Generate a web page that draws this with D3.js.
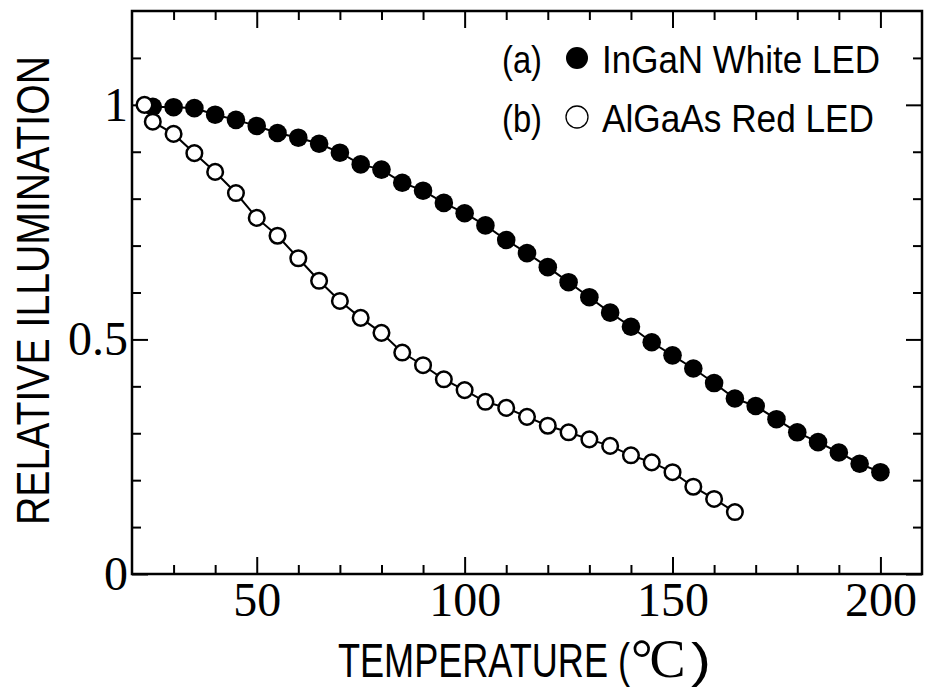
<!DOCTYPE html>
<html>
<head>
<meta charset="utf-8">
<script src="https://cdn.jsdelivr.net/npm/d3@7"></script>
<style>
  body { margin: 0; background: #fff; }
  svg text { fill: #000; }
</style>
</head>
<body>
<div class="canvas"></div>
<script>
// data
const tempWhite = [25, 30, 35, 40, 45, 50, 55, 60, 65, 70, 75, 80, 85, 90, 95, 100, 105, 110, 115, 120,
  125, 130, 135, 140, 145, 150, 155, 160, 165, 170, 175, 180, 185, 190, 195, 200];
const illumWhite = [0.996, 0.995, 0.993, 0.979, 0.968, 0.955, 0.940, 0.930, 0.917, 0.898, 0.873, 0.862,
  0.834, 0.817, 0.791, 0.769, 0.743, 0.712, 0.684, 0.654, 0.622, 0.590, 0.557, 0.527, 0.494, 0.466,
  0.438, 0.407, 0.374, 0.358, 0.330, 0.302, 0.281, 0.259, 0.235, 0.217];

const tempRed = [23, 25, 30, 35, 40, 45, 50, 55, 60, 65, 70, 75, 80, 85, 90, 95, 100, 105, 110, 115,
  120, 125, 130, 135, 140, 145, 150, 155, 160, 165];
const illumRed = [1.0, 0.964, 0.938, 0.897, 0.857, 0.812, 0.759, 0.721, 0.673, 0.625, 0.582, 0.546,
  0.514, 0.472, 0.445, 0.415, 0.392, 0.367, 0.354, 0.335, 0.316, 0.302, 0.287, 0.273, 0.253, 0.238,
  0.217, 0.186, 0.160, 0.132];

const xMajor = [50, 100, 150, 200];
const xMinor = [30, 40, 60, 70, 80, 90, 110, 120, 130, 140, 160, 170, 180, 190];
const yMajor = [0, 0.5, 1];
const yMinor = [0.1, 0.2, 0.3, 0.4, 0.6, 0.7, 0.8, 0.9, 1.1];

const legendLabels = ['InGaN White LED', 'AlGaAs Red LED'];
const legendTags = ['(a)', '(b)'];

// margins
const margin = {top: 11, right: 3, bottom: 114, left: 132};
const width = 925, height = 688;
const graphWidth = width - margin.left - margin.right;
const graphHeight = height - margin.top - margin.bottom;

const svg = d3.select('.canvas').append('svg')
    .attr('width', width)
    .attr('height', height);

const graph = svg.append('g')
    .attr('transform', `translate(${margin.left}, ${margin.top})`);

// scales
const x = d3.scaleLinear().domain([20, 210]).range([0, graphWidth]);
const y = d3.scaleLinear().domain([0, 1.2]).range([graphHeight, 0]);

const serif = '"Liberation Serif", "Times New Roman", serif';
const narrow = '"Liberation Sans Narrow", "Arial Narrow", "Liberation Sans", sans-serif';

// ticks on all four sides, pointing inward
function styleAxis(g) {
  g.select('.domain').remove();
  g.selectAll('line').attr('stroke', '#000').attr('stroke-width', 2);
  g.selectAll('text').attr('font-family', serif).attr('font-size', 48).attr('fill', '#000');
}

graph.append('g').attr('transform', `translate(0, ${graphHeight})`)
    .call(d3.axisBottom(x).tickValues(xMajor).tickSizeInner(-17).tickPadding(8).tickFormat(d3.format('d')))
    .call(styleAxis);
graph.append('g').attr('transform', `translate(0, ${graphHeight})`)
    .call(d3.axisBottom(x).tickValues(xMinor).tickSizeInner(-9).tickFormat(''))
    .call(styleAxis);
graph.append('g')
    .call(d3.axisTop(x).tickValues(xMajor).tickSizeInner(-17).tickFormat(''))
    .call(styleAxis);
graph.append('g')
    .call(d3.axisTop(x).tickValues(xMinor).tickSizeInner(-9).tickFormat(''))
    .call(styleAxis);

graph.append('g')
    .call(d3.axisLeft(y).tickValues(yMajor).tickSizeInner(-16).tickPadding(4).tickFormat(d => d))
    .call(styleAxis);
graph.append('g')
    .call(d3.axisLeft(y).tickValues(yMinor).tickSizeInner(-9).tickFormat(''))
    .call(styleAxis);
graph.append('g').attr('transform', `translate(${graphWidth}, 0)`)
    .call(d3.axisRight(y).tickValues(yMajor).tickSizeInner(-16).tickFormat(''))
    .call(styleAxis);
graph.append('g').attr('transform', `translate(${graphWidth}, 0)`)
    .call(d3.axisRight(y).tickValues(yMinor).tickSizeInner(-9).tickFormat(''))
    .call(styleAxis);

// frame
graph.append('rect')
    .attr('width', graphWidth)
    .attr('height', graphHeight)
    .attr('fill', 'none')
    .attr('stroke', '#000')
    .attr('stroke-width', 2.5);

// series
const white = tempWhite.map((t, i) => ({t: t, v: illumWhite[i]}));
const red = tempRed.map((t, i) => ({t: t, v: illumRed[i]}));

const line = d3.line()
    .x(d => x(d.t))
    .y(d => y(d.v));

graph.append('path').datum(white)
    .attr('d', line).attr('fill', 'none').attr('stroke', '#000').attr('stroke-width', 2);
graph.append('g').selectAll('circle').data(white).enter().append('circle')
    .attr('cx', d => x(d.t)).attr('cy', d => y(d.v)).attr('r', 9.3)
    .attr('fill', '#000');

graph.append('path').datum(red)
    .attr('d', line).attr('fill', 'none').attr('stroke', '#000').attr('stroke-width', 2);
graph.append('g').selectAll('circle').data(red).enter().append('circle')
    .attr('cx', d => x(d.t)).attr('cy', d => y(d.v)).attr('r', 7.8)
    .attr('fill', '#fff').attr('stroke', '#000').attr('stroke-width', 2.5);

// legend
const legend = svg.append('g');
const rowY = [73, 132];
const labelLen = [278, 272];
legendLabels.forEach((lab, i) => {
  legend.append('text')
      .attr('x', 502).attr('y', rowY[i])
      .attr('font-family', narrow).attr('font-size', 38)
      .attr('textLength', 40).attr('lengthAdjust', 'spacingAndGlyphs')
      .text(legendTags[i]);
  legend.append('circle')
      .attr('cx', 577).attr('cy', rowY[i] - 15).attr('r', 11)
      .attr('fill', i === 0 ? '#000' : '#fff')
      .attr('stroke', '#000').attr('stroke-width', i === 0 ? 0 : 1.3);
  legend.append('text')
      .attr('x', 602).attr('y', rowY[i])
      .attr('font-family', narrow).attr('font-size', 38)
      .attr('textLength', labelLen[i]).attr('lengthAdjust', 'spacingAndGlyphs')
      .text(lab);
});

// axis titles
svg.append('text')
    .attr('x', 338).attr('y', 677)
    .attr('font-family', narrow).attr('font-size', 48)
    .attr('textLength', 292).attr('lengthAdjust', 'spacingAndGlyphs')
    .text('TEMPERATURE (');
svg.append('text')
    .attr('x', 631).attr('y', 677)
    .attr('font-family', serif).attr('font-size', 54)
    .attr('letter-spacing', -3)
    .text('\u00b0C');
svg.append('text')
    .attr('x', 691).attr('y', 677)
    .attr('font-family', narrow).attr('font-size', 48)
    .attr('textLength', 20).attr('lengthAdjust', 'spacingAndGlyphs')
    .text(')');

svg.append('text')
    .attr('transform', 'translate(49, 525) rotate(-90)')
    .attr('font-family', narrow).attr('font-size', 47)
    .attr('textLength', 469).attr('lengthAdjust', 'spacingAndGlyphs')
    .text('RELATIVE ILLUMINATION');
</script>
</body>
</html>
